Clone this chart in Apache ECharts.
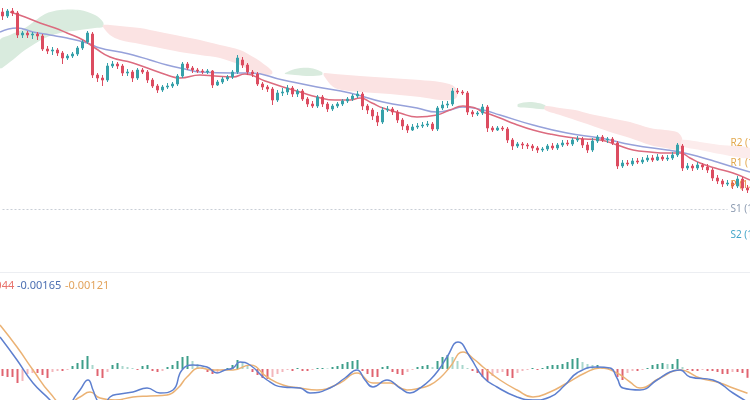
<!DOCTYPE html>
<html><head><meta charset="utf-8">
<script src="https://cdn.jsdelivr.net/npm/echarts@6/dist/echarts.min.js"></script>
<style>html,body{margin:0;padding:0;background:#fff}#c{width:750px;height:400px}</style>
</head><body><div id="c"></div>
<script>
// ---- candle data (one entry per bar) ----
const opens=[1.0888,1.0884,1.0889,1.0887,1.0865,1.0867,1.0865,1.0866,1.0864,1.0851,1.0849,1.0850,1.0847,1.0842,1.0844,1.0846,1.0852,1.0858,1.0866,1.0825,
1.0822,1.0820,1.0834,1.0836,1.0834,1.0827,1.0828,1.0822,1.0830,1.0828,1.0820,1.0814,1.0810,1.0813,1.0814,1.0816,1.0824,1.0836,1.0832,1.0830,
1.0829,1.0828,1.0829,1.0815,1.0818,1.0821,1.0823,1.0828,1.0840,1.0835,1.0828,1.0826,1.0816,1.0813,1.0811,1.0800,1.0807,1.0808,1.0812,1.0806,
1.0809,1.0801,1.0796,1.0794,1.0803,1.0796,1.0791,1.0794,1.0796,1.0799,1.0801,1.0804,1.0806,1.0794,1.0790,1.0784,1.0778,1.0790,1.0791,1.0788,
1.0780,1.0774,1.0770,1.0773,1.0774,1.0775,1.0776,1.0771,1.0792,1.0795,1.0796,1.0809,1.0808,1.0807,1.0788,1.0786,1.0787,1.0793,1.0772,1.0770,
1.0772,1.0771,1.0760,1.0754,1.0756,1.0755,1.0754,1.0752,1.0750,1.0751,1.0754,1.0752,1.0755,1.0757,1.0756,1.0760,1.0761,1.0755,1.0750,1.0759,
1.0763,1.0760,1.0761,1.0757,1.0734,1.0737,1.0736,1.0739,1.0738,1.0740,1.0742,1.0740,1.0743,1.0741,1.0742,1.0745,1.0754,1.0732,1.0734,1.0732,
1.0735,1.0733,1.0730,1.0722,1.0719,1.0716,1.0717,1.0714,1.0721,1.0712];
const closes=[1.0884,1.0889,1.0887,1.0865,1.0867,1.0865,1.0866,1.0864,1.0851,1.0849,1.0850,1.0847,1.0842,1.0844,1.0846,1.0852,1.0858,1.0867,1.0825,1.0822,
1.0820,1.0834,1.0836,1.0834,1.0827,1.0828,1.0822,1.0830,1.0828,1.0820,1.0814,1.0810,1.0813,1.0814,1.0816,1.0824,1.0836,1.0832,1.0830,1.0829,
1.0828,1.0829,1.0815,1.0818,1.0821,1.0823,1.0828,1.0842,1.0835,1.0828,1.0826,1.0816,1.0813,1.0811,1.0800,1.0807,1.0808,1.0812,1.0806,1.0809,
1.0801,1.0796,1.0794,1.0803,1.0796,1.0791,1.0794,1.0796,1.0799,1.0801,1.0804,1.0806,1.0794,1.0790,1.0784,1.0778,1.0790,1.0791,1.0788,1.0780,
1.0774,1.0770,1.0773,1.0774,1.0775,1.0776,1.0771,1.0792,1.0795,1.0796,1.0809,1.0808,1.0807,1.0788,1.0786,1.0787,1.0793,1.0772,1.0770,1.0772,
1.0771,1.0760,1.0754,1.0756,1.0755,1.0754,1.0752,1.0750,1.0751,1.0754,1.0752,1.0755,1.0757,1.0756,1.0760,1.0761,1.0755,1.0750,1.0759,1.0763,
1.0760,1.0761,1.0757,1.0734,1.0737,1.0736,1.0739,1.0738,1.0740,1.0742,1.0740,1.0743,1.0741,1.0742,1.0745,1.0755,1.0732,1.0734,1.0732,1.0735,
1.0733,1.0730,1.0722,1.0719,1.0716,1.0717,1.0714,1.0721,1.0712,1.0710];
const lows=[1.0880,1.0882,1.0884,1.0862,1.0862,1.0862,1.0861,1.0860,1.0849,1.0846,1.0845,1.0844,1.0836,1.0840,1.0842,1.0844,1.0850,1.0856,1.0822,1.0818,
1.0814,1.0818,1.0832,1.0831,1.0824,1.0824,1.0818,1.0820,1.0826,1.0817,1.0812,1.0807,1.0808,1.0811,1.0812,1.0814,1.0822,1.0830,1.0827,1.0827,
1.0826,1.0826,1.0812,1.0814,1.0816,1.0819,1.0821,1.0826,1.0832,1.0825,1.0823,1.0814,1.0810,1.0808,1.0795,1.0798,1.0804,1.0805,1.0803,1.0803,
1.0799,1.0793,1.0792,1.0792,1.0793,1.0788,1.0789,1.0792,1.0794,1.0797,1.0799,1.0802,1.0790,1.0786,1.0780,1.0774,1.0776,1.0788,1.0785,1.0777,
1.0770,1.0767,1.0769,1.0771,1.0772,1.0773,1.0769,1.0769,1.0790,1.0792,1.0794,1.0806,1.0805,1.0785,1.0783,1.0784,1.0785,1.0768,1.0768,1.0769,
1.0769,1.0757,1.0750,1.0752,1.0751,1.0751,1.0749,1.0747,1.0748,1.0749,1.0750,1.0750,1.0753,1.0754,1.0754,1.0758,1.0752,1.0747,1.0748,1.0757,
1.0758,1.0757,1.0755,1.0731,1.0732,1.0734,1.0734,1.0736,1.0736,1.0738,1.0738,1.0739,1.0739,1.0739,1.0740,1.0743,1.0729,1.0730,1.0729,1.0730,
1.0730,1.0727,1.0719,1.0716,1.0713,1.0714,1.0711,1.0712,1.0709,1.0707];
const highs=[1.0892,1.0891,1.0892,1.0889,1.0869,1.0869,1.0868,1.0868,1.0866,1.0854,1.0853,1.0852,1.0849,1.0846,1.0848,1.0854,1.0860,1.0869,1.0868,1.0827,
1.0825,1.0837,1.0839,1.0838,1.0836,1.0831,1.0830,1.0832,1.0832,1.0830,1.0822,1.0816,1.0815,1.0817,1.0818,1.0826,1.0838,1.0838,1.0834,1.0832,
1.0831,1.0831,1.0830,1.0820,1.0823,1.0825,1.0830,1.0845,1.0843,1.0837,1.0830,1.0828,1.0818,1.0815,1.0813,1.0810,1.0812,1.0815,1.0814,1.0811,
1.0811,1.0803,1.0799,1.0805,1.0805,1.0798,1.0796,1.0798,1.0801,1.0803,1.0806,1.0809,1.0808,1.0796,1.0792,1.0788,1.0793,1.0794,1.0793,1.0790,
1.0782,1.0776,1.0776,1.0777,1.0778,1.0779,1.0778,1.0794,1.0799,1.0799,1.0812,1.0812,1.0810,1.0809,1.0790,1.0789,1.0796,1.0795,1.0774,1.0774,
1.0774,1.0773,1.0762,1.0758,1.0758,1.0757,1.0756,1.0754,1.0753,1.0756,1.0757,1.0757,1.0760,1.0760,1.0762,1.0764,1.0763,1.0758,1.0762,1.0765,
1.0765,1.0763,1.0763,1.0759,1.0740,1.0740,1.0742,1.0742,1.0743,1.0745,1.0745,1.0746,1.0745,1.0745,1.0748,1.0757,1.0756,1.0737,1.0736,1.0738,
1.0737,1.0736,1.0732,1.0725,1.0721,1.0720,1.0719,1.0724,1.0723,1.0715];

// ---- moving averages: [bar position, price] ----
const maRed=[[2,1.0888],[5,1.0883],[8,1.0877],[11,1.0872],[13.4,1.0867],[16.6,1.0860],[19,1.0852],[22,1.0843],[26.6,1.0837],[30,1.0831],
[33.4,1.0825],[36,1.0822],[40,1.0825],[43,1.0824],[46.6,1.0823],[49,1.0826],[53,1.0819],[56.6,1.0813],[60,1.0808],[63.4,1.0803],
[67,1.0800],[70,1.0800],[72,1.0802],[74.4,1.0797],[76.6,1.0792],[80,1.0787],[83.4,1.0783],[87.4,1.0785],[90,1.0790],[92.6,1.0794],
[95,1.0792],[96.6,1.0788],[98.4,1.0785],[100,1.0782],[103,1.0776],[106.6,1.0770],[110,1.0766],[113.4,1.0763],[117,1.0761],[120,1.0760],
[123.4,1.0755],[126.6,1.0750],[130,1.0748],[133.4,1.0747],[136,1.0747],[138,1.0742],[140,1.0737],[143,1.0732],[146.6,1.0727],[150,1.0720]];
const maBlue=[[0,1.0868],[3.4,1.0872],[6.6,1.0868],[10,1.0865],[13.4,1.0862],[17.4,1.0857],[20,1.0852],[24,1.0848],[26.6,1.0845],[30,1.0840],
[33.4,1.0835],[37,1.0831],[40,1.0828],[46.6,1.0827],[50,1.0827],[56.6,1.0820],[63.4,1.0813],[70,1.0807],[76.6,1.0798],[83.4,1.0792],
[87.4,1.0788],[90,1.0790],[92.6,1.0793],[96.6,1.0790],[100,1.0785],[106.6,1.0775],[113.4,1.0767],[120,1.0762],[126.6,1.0755],[133.4,1.0750],
[136,1.0748],[140,1.0743],[143.4,1.0738],[146.6,1.0733],[150,1.0728]];

// ---- cloud segments: [bar position, upper, lower] ----
const cloudGreen1=[[0,1.0860,1.0832],[2,1.0865,1.0838],[5,1.0872,1.0850],[9,1.0886,1.0862],[12,1.0890,1.0867],[16,1.0890,1.0870],[19,1.0885,1.0872],[20.6,1.0878,1.0873]];
const cloudPink1=[[20.6,1.0875,1.0873],[22,1.0875,1.0865],[24,1.0874,1.0860],[28,1.0872,1.0856],[32,1.0868,1.0852],[36,1.0864,1.0848],[40,1.0860,1.0845],[44,1.0855,1.0842],[48,1.0850,1.0835],[51,1.0842,1.0827],[53,1.0835,1.0825],[54.4,1.0829,1.0826]];
const cloudGreen2=[[57,1.0827,1.0826],[59,1.0831,1.0825],[62,1.0832,1.0824],[64.4,1.0828,1.0825]];
const cloudPink2=[[64.8,1.0827,1.0824],[67,1.0826,1.0812],[72,1.0824,1.0808],[78,1.0822,1.0806],[84,1.0820,1.0803],[88,1.0818,1.0800],[90.4,1.0815,1.0800],[91.4,1.0810,1.0803]];
const cloudGreen3=[[103.6,1.0796,1.0793],[106,1.0798,1.0792],[109,1.0795,1.0791]];
const cloudPink3=[[109,1.0794,1.0790],[112,1.0792,1.0785],[115,1.0790,1.0780],[118,1.0786,1.0775],[122,1.0782,1.0768],[126,1.0778,1.0762],[130,1.0772,1.0755],[133,1.0770,1.0752],[135.4,1.0768,1.0750],[136.4,1.0762,1.0752]];
const cloudPink4=[[136.4,1.0760,1.0754],[140,1.0758,1.0750],[144,1.0755,1.0746],[150,1.0752,1.0742]];

// ---- pivot levels ----
const pivotNames=['R2','R1','P','S1','S2'];
const pivotValues=[1.0757,1.0737,1.0715,1.0691,1.0665];

// ---- MACD ----
const macdHist=[-0.00035,-0.0004,-0.0004,-0.0007,-0.0006,-0.00025,-0.0002,-0.0002,-0.0003,-0.00045,-0.00015,-0.0001,-0.0001,-0.00005,0.00015,0.0003,0.00045,0.00065,0.0002,-0.00035,
-0.00045,-0.00015,0.0002,0.0003,0.00015,0.0001,0.00005,-0.00005,0.00015,0.0002,-0.0001,-0.00015,-0.0001,0.0001,0.0002,0.0004,0.0006,0.00065,0.0004,0.00025,
0.0001,-0.00015,-0.00025,-0.0002,-0.00005,0.00005,0.0002,0.00045,0.00035,0.0002,-0.00015,-0.0003,-0.00045,-0.0005,-0.0004,-0.00025,-0.00015,-0.00005,-0.0001,0.00005,
-0.0001,-0.0001,-0.00005,0.00005,0.00005,0.00003,0.0001,0.00015,0.00025,0.00035,0.0004,0.00045,-0.0001,-0.00025,-0.0004,-0.0004,0.0001,0.00015,-0.00015,-0.00025,
-0.0003,-0.00015,-0.00005,0.0001,0.00015,0.0002,0.0001,0.0004,0.0006,0.0007,0.0006,0.0004,0.0002,0.00005,-0.0001,-0.0002,-0.0004,-0.0006,-0.00035,-0.0002,
-0.00015,-0.00035,-0.00045,-0.0002,-0.0001,-0.00005,0.00005,-0.00005,0.00005,0.00015,0.0002,0.0002,0.00025,0.00035,0.0005,0.00055,0.00035,0.00025,0.0002,0.0002,
0.00005,0.00005,-0.00005,-0.0004,-0.00055,-0.0002,-0.0001,-0.0001,-0.00005,0.00005,0.0002,0.00025,0.0003,0.00025,0.00025,0.0005,0.0001,-0.00005,-0.0001,-0.0001,
-0.00005,-0.0001,-0.0001,-0.00015,-0.00025,-0.00025,-0.00015,-0.00015,-0.0002,-0.00044];
const macdDif=[[0,0.0016],[3.4,0.00045],[6.6,-0.0007],[10,-0.00155],[12,-0.00215],[14,-0.00195],[14.6,-0.00155],[16,-0.00105],[17.6,-0.00055],[18.6,-0.00105],
[19.4,-0.00155],[20.6,-0.00195],[22,-0.0014],[24,-0.00125],[26.6,-0.00115],[29.4,-0.00095],[32,-0.0012],[34.6,-0.00105],[36.4,-0.00005],[38.6,0.0002],
[41.4,0.0001],[43.4,-0.0002],[45,-0.00005],[46.6,0.00005],[48,0.00035],[50,0.0002],[53.4,-0.00055],[56.6,-0.0009],[60,-0.00095],[62,-0.0012],
[66,-0.00095],[69,-0.00045],[71.4,-0.00005],[73,-0.00055],[74.6,-0.0009],[77.4,-0.00055],[80,-0.00095],[82,-0.0012],[84,-0.00095],[86,-0.00055],
[88,0.00005],[89.4,0.0006],[91.6,0.00135],[94,0.0006],[96.6,-0.0004],[99.4,-0.0009],[103.4,-0.0014],[106.6,-0.00155],[110,-0.0014],[113,-0.0008],
[115.4,-0.0002],[119.4,0.0001],[122,0.00005],[123.4,-0.00045],[124.6,-0.00095],[128,-0.00105],[131.4,-0.00055],[134,-0.00015],[136,-0.00005],[138,-0.0004],
[142.6,-0.00055],[146.6,-0.0012],[149.5,-0.00165]];
const macdDea=[[0,0.0022],[3.4,0.0011],[6.6,-0.00005],[10,-0.0012],[13,-0.0018],[16,-0.0014],[18,-0.00115],[20,-0.00145],[23,-0.00155],[26.6,-0.0014],
[30,-0.00135],[33.4,-0.0013],[35.6,-0.00095],[37.4,-0.0004],[40,0.00005],[42.6,-0.00005],[46.6,-0.00005],[50,0.0002],[53.4,-0.0004],[56.6,-0.0008],
[60,-0.00095],[63.4,-0.00105],[68,-0.0007],[71.4,-0.0002],[74.6,-0.0007],[78,-0.0007],[81.4,-0.00105],[84,-0.00095],[86,-0.0008],[88,-0.00045],
[90,0.0001],[92.6,0.00085],[95,0.00045],[96.6,0.0001],[100,-0.00055],[103.4,-0.00105],[106.6,-0.0014],[110,-0.00115],[113.4,-0.0007],[117,-0.0002],
[120,0.00005],[123.4,-0.0002],[126,-0.00065],[128,-0.00095],[132,-0.00045],[136,-0.00005],[140,-0.00045],[144,-0.0007],[146.6,-0.00095],[149.5,-0.00121]];
const legendValues=['-0.00044','-0.00165','-0.00121'];

const categories=opens.map((_,i)=>'b'+i);
const candleData=opens.map((o,i)=>[o,closes[i],lows[i],highs[i]]);

const UP='#37a1aa', DOWN='#dc4c60';
const GREEN='#d9ebde', PINK='#fbe3e3';
const pivotColors=['#e3a94f','#e3a94f','#e58a3a','#8b9ab0','#44a6c9'];

function cloud(seg,color){
  return {type:'custom',xAxisIndex:1,yAxisIndex:0,data:seg,silent:true,z:1,clip:true,
    renderItem:function(params,api){
      if(params.dataIndex!==0) return null;
      const up=seg.map(p=>api.coord([p[0],p[1]]));
      const dn=seg.slice().reverse().map(p=>api.coord([p[0],p[2]]));
      return {type:'polygon',shape:{points:up.concat(dn),smooth:0.3},style:{fill:color}};
    }};
}

const pivotLines=pivotNames.map((n,i)=>[
  {coord:[0,pivotValues[i]],lineStyle:{color:n==='S1'?'#c9ced6':'rgba(0,0,0,0)',type:[2,2],width:1},
   label:{show:true,position:'end',distance:3,formatter:n+' ('+pivotValues[i].toFixed(4)+')',color:pivotColors[i],fontSize:10,fontFamily:'Noto Sans'}},
  {coord:[145,pivotValues[i]]}
]);

const histColors=macdHist.map((v,i)=>{
  const prev=i>0?macdHist[i-1]:0;
  if(v>=0) return v>=prev?'#3e9f8a':'#a9d7cc';
  return v<=prev?'#e06470':'#f3b7bc';
});

const chart=echarts.init(document.getElementById('c'),null,{renderer:'canvas'});
chart.setOption({
  animation:false,
  backgroundColor:'#fff',
  grid:[{left:0,right:0,top:0,height:272},{left:0,right:0,top:280,height:120}],
  xAxis:[
    {type:'category',gridIndex:0,data:categories,boundaryGap:true,axisLine:{show:true,lineStyle:{color:'#eceef2'}},axisTick:{show:false},axisLabel:{show:false},splitLine:{show:false}},
    {type:'value',gridIndex:0,min:0,max:150,show:false},
    {type:'category',gridIndex:1,data:categories,boundaryGap:true,show:false},
    {type:'value',gridIndex:1,min:0,max:150,show:false}
  ],
  yAxis:[
    {type:'value',gridIndex:0,min:1.0628,max:1.0900,show:false,splitLine:{show:false}},
    {type:'value',gridIndex:1,min:-0.00155,max:0.00445,show:false,splitLine:{show:false}}
  ],
  series:[
    cloud(cloudGreen1,GREEN),
    cloud(cloudPink1,PINK),
    cloud(cloudGreen2,GREEN),
    cloud(cloudPink2,PINK),
    cloud(cloudGreen3,GREEN),
    cloud(cloudPink3,PINK),
    cloud(cloudPink4,'#fcecec'),
    {type:'line',xAxisIndex:1,yAxisIndex:0,data:maBlue,smooth:true,symbol:'none',lineStyle:{color:'#96a1da',width:1.5},z:3},
    {type:'line',xAxisIndex:1,yAxisIndex:0,data:maRed,smooth:true,symbol:'none',lineStyle:{color:'#dc6b7f',width:1.5},z:3},
    {type:'candlestick',xAxisIndex:0,yAxisIndex:0,data:candleData,barWidth:3,
      itemStyle:{color:UP,color0:DOWN,borderColor:UP,borderColor0:DOWN,borderWidth:1},z:4,
      markLine:{symbol:['none','none'],silent:true,animation:false,data:pivotLines}},
    {type:'bar',xAxisIndex:2,yAxisIndex:1,data:macdHist.map((v,i)=>({value:v,itemStyle:{color:histColors[i]}})),barWidth:2,z:2},
    {type:'line',xAxisIndex:3,yAxisIndex:1,data:macdDea,smooth:true,symbol:'none',lineStyle:{color:'#ebb274',width:1.5},z:3},
    {type:'line',xAxisIndex:3,yAxisIndex:1,data:macdDif,smooth:true,symbol:'none',lineStyle:{color:'#5d7fcf',width:1.5},z:4}
  ],
  graphic:[
    {type:'text',left:-30,top:280,style:{text:legendValues[0],fill:'#e8726c',font:'11px "Noto Sans"'}},
    {type:'text',left:17,top:280,style:{text:legendValues[1],fill:'#4c6fb2',font:'11px "Noto Sans"'}},
    {type:'text',left:65,top:280,style:{text:legendValues[2],fill:'#e2a35c',font:'11px "Noto Sans"'}}
  ]
});
</script></body></html>
